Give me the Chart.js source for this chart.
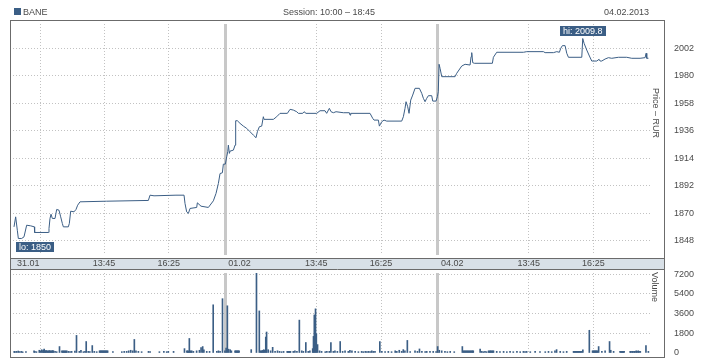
<!DOCTYPE html>
<html><head><meta charset="utf-8">
<script src="https://cdn.jsdelivr.net/npm/chart.js@4.4.1/dist/chart.umd.min.js"></script>
<style>
html,body{margin:0;padding:0;background:#fff;}
#wrap{position:relative;width:718px;height:360px;overflow:hidden;font-family:"Liberation Sans",Arial,sans-serif;font-size:9px;color:#4a4a4a;}
.t{position:absolute;line-height:10px;white-space:nowrap;}
.v{position:absolute;writing-mode:vertical-rl;line-height:10px;white-space:nowrap;}
canvas{position:absolute;left:0;}
</style></head><body>
<div id="wrap">
<canvas id="price" width="718" height="259" style="top:0"></canvas>
<canvas id="vol" width="718" height="101" style="top:259px"></canvas>
<div style="position:absolute;left:14px;top:8px;width:7px;height:7px;background:#3b5e85"></div>
<div class="t" style="left:23px;top:7px">BANE</div>
<div class="t" style="left:283px;top:7px">Session: 10:00 – 18:45</div>
<div class="t" style="left:604px;top:7px">04.02.2013</div>
<div class="v" style="left:651px;top:88px">Price – RUR</div>
<div class="v" style="left:650px;top:272px">Volume</div>
</div>
<script>
// trading minutes since 31.01 10:00, 525 minutes per session
const priceMinutes = [2.5,6.6,10.7,13.2,21.4,27.2,33.8,43.7,52.8,53.5,87.4,89,91.5,94,97.3,103.9,108,113.7,117.9,122,124.5,136.8,139.3,142.6,150.8,155.8,159.9,165.7,231.6,334.7,338.8,348.7,403,422.9,425.3,429.4,433.6,437.7,454.2,455.8,464.9,483,495.4,502,507.8,511.9,517.7,520.1,525,528.4,530.9,532.5,535,536.6,544.9,549,550.6,554.7,561.3,569.6,577.8,586.1,594.3,600.9,604.2,609.1,614.9,619,620.7,643.8,652,660.2,678.4,685,693.2,701.5,705.6,716.3,719.6,724.5,750.9,759.2,771.5,775.6,782.2,786.4,792.1,798.7,816.9,831.7,833.3,835,882.8,889.4,892.7,903.4,905.9,911.7,917.4,924,961.1,965.2,969.3,971.8,975.9,979.2,983.4,988.3,994.1,1004.8,1010.6,1014.7,1018.8,1022.9,1027.1,1035.3,1037.8,1046,1049.3,1051.5,1053.5,1055.9,1060.1,1093,1097.1,1109.5,1117.8,1130.1,1132.6,1134.2,1136.7,1140.8,1185.3,1187.8,1196,1262,1270.2,1311.5,1315.6,1336.2,1344.4,1351,1354.3,1358.4,1365,1369.2,1373.3,1406.3,1408.7,1412,1418.6,1425.2,1431,1443.4,1449.1,1451.6,1455.7,1463.9,1472.2,1480.4,1496.9,1517.5,1529.9,1550.5,1562.9,1565.4,1567,1571.1];
const priceValues = [1859.3,1867.3,1856.6,1850,1850,1851.3,1860.6,1860.1,1859.3,1854.8,1854.8,1858,1866,1869.4,1866,1866,1873.2,1872.6,1867.3,1862,1859.3,1859.3,1862,1871.8,1871.3,1873.2,1876.6,1879.3,1879.8,1880.4,1884.6,1884.1,1884.6,1884.6,1878,1871.3,1870,1874,1874.8,1878.5,1875.8,1874.8,1880.1,1886,1894,1901.9,1902.5,1909.4,1909.4,1915.3,1919.3,1924.6,1918,1919.8,1920.6,1924.6,1944.1,1944.1,1942,1939.8,1938,1935.3,1932.6,1930.5,1935.3,1939.3,1939.8,1947.3,1945.2,1945.2,1947.3,1950,1950,1953.2,1952.6,1951.3,1950,1950,1951.3,1950,1950,1952.1,1952.1,1950,1954,1951.3,1950.5,1951.3,1950.5,1950.5,1948.6,1950,1950,1946,1944.6,1944.6,1939.8,1943.3,1944.6,1943.8,1943.8,1947.3,1954,1959.3,1955.3,1950,1960.6,1964.6,1970,1970,1966,1962,1959.3,1962,1964.1,1964.1,1959.8,1959.8,1963.3,1967.3,1989.2,1986,1979.3,1979.3,1982,1987.8,1989.2,1988.6,1995.3,1998.5,1990.5,1990,1990,1994.8,1998.8,1998.8,1999.3,1999.3,1998.5,1998.5,1999.3,1998.8,2002,2004.1,2004.1,1998,1994.8,1994.8,2009.8,2006,2000.6,1995.8,1991.8,1991.8,1993.2,1991.8,1991.8,1993.4,1994.5,1994,1994.8,1994.8,1994,1994,1994.5,1998,1994,1994];
const volumeMinutes = [3,5,9,13,17,21,24,32,52,54,58,65,68,71,74,75,77,79,80,82,84,86,88,90,92,94,96,98,100,104,108,115,121,123,125,127,129,131,133,137,141,145,153,157,164,168,174,178,181,186,190,196,201,207,214,216,218,220,222,224,226,228,230,232,234,247,269,275,281,286,291,296,300,304,310,318,335,339,362,373,380,384,397,424,430,432,434,436,438,440,442,446,454,461,465,469,472,479,486,495,504,508,512,518,524,527,530,533,537,540,549,551,553,555,557,559,589,602,609,612,614,616,618,620,622,625,627,631,637,642,648,654,659,664,669,678,680,682,684,686,693,697,702,708,714,718,724,730,734,741,743,745,748,750,753,758,763,772,776,782,786,792,796,802,809,815,821,829,833,838,846,854,862,866,871,875,879,883,887,891,895,907,912,920,928,936,945,949,955,961,965,969,975,982,994,1000,1005,1011,1019,1023,1031,1039,1046,1050,1054,1060,1068,1074,1081,1091,1111,1114,1116,1119,1121,1124,1126,1129,1131,1134,1136,1138,1155,1159,1163,1167,1171,1176,1178,1180,1182,1184,1186,1188,1196,1204,1213,1221,1229,1237,1246,1254,1262,1266,1270,1279,1291,1303,1316,1324,1332,1340,1344,1353,1361,1369,1386,1388,1391,1393,1396,1398,1401,1403,1406,1409,1425,1433,1435,1437,1439,1441,1443,1445,1448,1456,1464,1475,1478,1485,1501,1503,1505,1507,1509,1511,1526,1528,1531,1533,1536,1538,1541,1543,1546,1548,1551,1565,1571];
const volumeValues = [150,120,150,180,120,150,100,120,200,150,120,250,200,300,200,250,350,200,200,220,200,180,200,220,200,180,200,220,200,150,120,590,200,180,200,180,200,180,200,150,120,150,180,1610,150,250,120,150,1050,150,120,680,150,120,200,200,200,200,200,200,200,200,200,200,200,120,120,150,150,200,250,200,1240,200,150,120,150,120,120,150,120,150,150,400,200,200,180,1330,200,180,200,150,200,250,500,590,300,150,150,4410,150,200,150,4970,200,450,4320,350,300,200,200,200,200,200,200,200,310,7300,3850,200,200,200,250,300,250,1460,1920,300,200,520,150,200,150,120,150,150,150,150,150,150,150,200,150,3010,200,150,960,150,200,400,1520,3480,4040,1770,770,200,150,120,150,150,960,150,200,150,1050,150,200,150,250,200,150,120,150,120,150,120,150,130,200,150,150,1050,150,120,150,120,200,150,250,150,310,200,1150,120,200,150,370,150,120,150,150,150,120,590,250,200,150,120,150,120,590,200,200,200,200,200,200,200,200,200,200,200,370,150,120,150,120,200,180,200,200,180,200,200,150,120,150,120,150,120,150,120,150,120,150,120,150,120,120,150,120,200,310,150,120,150,150,150,150,150,150,150,150,150,150,300,2080,200,200,200,200,200,200,200,590,150,200,1050,250,150,150,150,150,150,150,150,150,150,150,150,150,150,200,150,200,150,150,680,150];
const priceTicks = [1848,1870,1892,1914,1936,1958,1980,2002];
const volumeTicks = [0,1800,3600,5400,7200];
const xTickMinutes = [0,38,67,225,385,525,560,750,910,1050,1086,1275,1435];
const xTickLabels = ['','31.01','','13:45','16:25','','01.02','13:45','16:25','','04.02','13:45','16:25'];
const dayStarts = [525,1050];
const gridMinutes = [67,225,385,750,910,1275,1435];
const totalMinutes = 1575;

const LINE = '#3b5e85';
const FONT = '"Liberation Sans", Arial, sans-serif';
Chart.defaults.font.family = FONT;
Chart.defaults.font.size = 9;
Chart.defaults.color = '#4a4a4a';

function tv(c){ return c && c.tick ? c.tick.value : null; }
function xScale(showLabels, pos){
  return {
    type:'linear', position:pos, min:0, max:totalMinutes, offset:false,
    afterBuildTicks: s => { s.ticks = xTickMinutes.map(v => ({value:v})); },
    afterFit: s => { s.height = showLabels ? 14 : 0; s.paddingLeft = s.paddingRight = s.paddingTop = s.paddingBottom = 0; },
    ticks: {display:showLabels, autoSkip:false, maxRotation:0, minRotation:0, padding:4, color:'#4a4a4a',
      callback: (v, i) => xTickLabels[i]},
    grid: {offset:false, drawTicks:false,
      color: c => { const v = tv(c); return dayStarts.includes(v) ? '#c8c8c8' : (gridMinutes.includes(v) ? '#c2c2c2' : 'rgba(0,0,0,0)'); },
      lineWidth: c => dayStarts.includes(tv(c)) ? 3 : 1},
    border: {display:false, dash: c => dayStarts.includes(tv(c)) ? [] : [1,2]}
  };
}
function yScale(min, max, ticks){
  return {
    type:'linear', position:'right', min:min, max:max,
    afterBuildTicks: s => { s.ticks = ticks.map(v => ({value:v})); },
    afterFit: s => { s.width = 68; s.paddingTop = s.paddingBottom = 0; },
    ticks: {padding:24, color:'#4a4a4a', callback: v => String(v)},
    grid: {drawTicks:false, color: c => tv(c) === 0 ? 'rgba(0,0,0,0)' : '#c2c2c2'},
    border: {display:false, dash:[1,2]}
  };
}

function drawTag(ctx, text, px, py, above, minX){
  ctx.save();
  ctx.font = '9px ' + FONT;
  const w = Math.round(ctx.measureText(text).width + 6), h = 10;
  let x = Math.max(Math.round(px - w/2), minX);
  const y = above ? Math.round(py - 3 - h) : Math.round(py + 4);
  ctx.fillStyle = LINE; ctx.fillRect(x, y, w, h);
  ctx.fillStyle = '#ffffff'; ctx.textBaseline = 'middle'; ctx.textAlign = 'left';
  ctx.fillText(text, x + 3, y + h/2 + 0.5);
  ctx.restore();
}
const priceDecor = {
  id:'priceDecor',
  afterDatasetsDraw(chart){
    const xs = chart.scales.x, ys = chart.scales.y;
    let hi = 0, lo = 0;
    priceValues.forEach((v, i) => { if (v > priceValues[hi]) hi = i; if (v < priceValues[lo]) lo = i; });
    drawTag(chart.ctx, 'hi: ' + priceValues[hi], xs.getPixelForValue(priceMinutes[hi]), ys.getPixelForValue(priceValues[hi]), true, chart.chartArea.left + 3);
    drawTag(chart.ctx, 'lo: ' + priceValues[lo], xs.getPixelForValue(priceMinutes[lo]), ys.getPixelForValue(priceValues[lo]), false, chart.chartArea.left + 3);
  },
  afterDraw(chart){
    const ctx = chart.ctx; ctx.save();
    ctx.strokeStyle = '#6b6b6b'; ctx.lineWidth = 1;
    ctx.strokeRect(10.5, 20.5, 654, 238);
    ctx.restore();
  }
};
const volDecor = {
  id:'volDecor',
  beforeDraw(chart){
    const ctx = chart.ctx; ctx.save();
    ctx.fillStyle = '#d8e0e7'; ctx.fillRect(10, 0, 654, 10);
    ctx.restore();
  },
  afterDraw(chart){
    const ctx = chart.ctx; ctx.save();
    ctx.strokeStyle = '#6b6b6b'; ctx.lineWidth = 1;
    ctx.strokeRect(10.5, -0.5, 654, 99);
    ctx.beginPath(); ctx.moveTo(10, 10.5); ctx.lineTo(665, 10.5); ctx.stroke();
    ctx.restore();
  }
};

const common = {responsive:false, animation:false, devicePixelRatio:1, events:[],
  plugins:{legend:{display:false}, tooltip:{enabled:false}}};

new Chart(document.getElementById('price'), {
  type:'line',
  data:{datasets:[{data: priceMinutes.map((m, i) => ({x:m, y:priceValues[i]})),
    borderColor:LINE, borderWidth:1, pointRadius:0, tension:0, fill:false}]},
  options: Object.assign({}, common, {
    layout:{padding:{left:13, top:24, right:0, bottom:4}},
    scales:{x: xScale(false, 'bottom'), y: yScale(1836.8, 2021.4, priceTicks)}
  }),
  plugins:[priceDecor]
});

new Chart(document.getElementById('vol'), {
  type:'bar',
  data:{datasets:[{data: volumeMinutes.map((m, i) => ({x:m, y:volumeValues[i]})),
    backgroundColor:LINE, borderWidth:0, barThickness:1}]},
  options: Object.assign({}, common, {
    layout:{padding:{left:13, top:0, right:0, bottom:7}},
    scales:{x: xScale(true, 'top'), y: yScale(0, 7320, volumeTicks)}
  }),
  plugins:[volDecor]
});
</script>
</body></html>
